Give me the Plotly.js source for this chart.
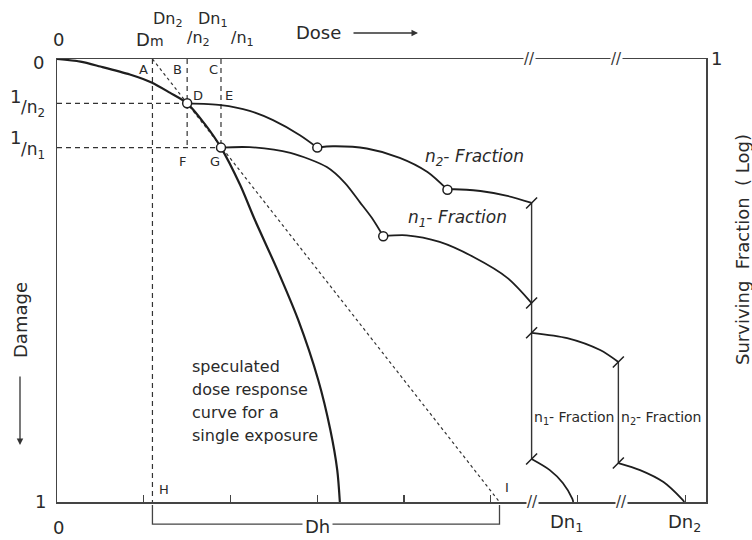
<!DOCTYPE html>
<html>
<head>
<meta charset="utf-8">
<script src="https://cdn.plot.ly/plotly-3.0.1.min.js"></script>
<style>html,body{margin:0;padding:0;background:#fff}</style>
</head>
<body>
<div id="chart" style="width:752px;height:540px"></div>
<script>
// Dose in arbitrary units along x; damage runs from 0 (top) to 1 (bottom).
const doseTicks = [1, 2, 3, 4, 5, 6.0, 7.24];
const Dm = 1.1;              // start of the extrapolated straight line (A / H)
const doseI = 5.1;           // extrapolated straight line reaches full damage (I)
const invN2 = 0.1;           // damage per fraction, 1/n2
const invN1 = 0.2;           // damage per fraction, 1/n1
const doseD = 1.5;           // Dn2/n2
const doseG = 1.89;          // Dn1/n1
const topBreaks = [5.45, 6.45];
const bottomBreaks = [5.48, 6.51];

// single exposure dose response
const singleDose   = [0, 0.27, 0.5, 0.84, 1.09, 1.3, 1.5, 1.7, 1.89, 2.11, 2.28, 2.54, 2.78, 3.01, 3.15, 3.23, 3.26];
const singleDamage = [0, 0.006, 0.017, 0.035, 0.053, 0.076, 0.1, 0.146, 0.2, 0.284, 0.363, 0.476, 0.589, 0.724, 0.837, 0.928, 1.0];

// n2-fraction, one segment per fraction
const n2Seg1Dose = [1.5, 1.89, 2.22, 2.49, 2.8, 3.0];
const n2Seg1Dmg  = [0.1, 0.104, 0.117, 0.138, 0.172, 0.2];
const n2Seg2Dose = [3.0, 3.18, 3.57, 3.95, 4.27, 4.5];
const n2Seg2Dmg  = [0.2, 0.197, 0.202, 0.223, 0.255, 0.295];
const n2Seg3Dose = [4.5, 4.56, 4.88, 5.19, 5.47];
const n2Seg3Dmg  = [0.295, 0.294, 0.298, 0.309, 0.325];

// n1-fraction
const n1Seg1Dose = [1.89, 2.22, 2.69, 3.11, 3.32, 3.49, 3.63, 3.76];
const n1Seg1Dmg  = [0.2, 0.199, 0.212, 0.244, 0.28, 0.323, 0.359, 0.4];
const n1Seg2Dose = [3.76, 4.03, 4.41, 4.8, 5.19, 5.47];
const n1Seg2Dmg  = [0.4, 0.398, 0.413, 0.447, 0.494, 0.551];

// beyond the axis breaks
const lateUpperDose = [5.47, 5.88, 6.26, 6.47];
const lateUpperDmg  = [0.618, 0.63, 0.657, 0.684];
const lateN1Dose = [5.47, 5.68, 5.83, 5.94, 5.95];
const lateN1Dmg  = [0.903, 0.928, 0.957, 0.993, 1.0];
const lateN2Dose = [6.47, 6.72, 6.99, 7.2, 7.23];
const lateN2Dmg  = [0.912, 0.928, 0.955, 0.993, 1.0];
const jumpDose   = [5.47, 6.47];
const jumpTop    = [0.325, 0.684];
const jumpBottom = [0.903, 0.912];

// slash marks where the curves meet the jump lines
const slashDose = [5.47, 5.47, 5.47, 6.47, 5.47, 6.47];
const slashDmg  = [0.325, 0.551, 0.618, 0.684, 0.903, 0.912];

// open circles at the end of each fraction
const circleDose = [1.5, 1.89, 3.0, 4.5, 3.76];
const circleDmg  = [0.1, 0.2, 0.2, 0.295, 0.4];

const INK = '#1e1e1e';
const FONT = 'DejaVu Sans';

function curve(x, y, w) {
  return {x: x, y: y, mode: 'lines', line: {color: INK, width: w, shape: 'spline', smoothing: 0.8}, hoverinfo: 'skip'};
}
function guide(x, y, dash) {
  return {x: x, y: y, mode: 'lines', line: {color: '#333', width: 1.2, dash: dash}, hoverinfo: 'skip'};
}

const traces = [
  guide([0, doseD], [invN2, invN2], '5px,4px'),
  guide([0, doseG], [invN1, invN1], '5px,4px'),
  guide([Dm, Dm], [0, 1], '5px,4px'),
  guide([doseD, doseD], [0, invN1], '5px,4px'),
  guide([doseG, doseG], [0, invN1], '5px,4px'),
  guide([Dm, doseI], [0, 1], '3px,3px'),
  curve(singleDose, singleDamage, 2.2),
  curve(n2Seg1Dose, n2Seg1Dmg, 1.8),
  curve(n2Seg2Dose, n2Seg2Dmg, 1.8),
  curve(n2Seg3Dose, n2Seg3Dmg, 1.8),
  curve(n1Seg1Dose, n1Seg1Dmg, 1.8),
  curve(n1Seg2Dose, n1Seg2Dmg, 1.8),
  curve(lateUpperDose, lateUpperDmg, 1.8),
  curve(lateN1Dose, lateN1Dmg, 1.8),
  curve(lateN2Dose, lateN2Dmg, 1.8)
];
jumpDose.forEach(function (d, i) {
  traces.push({x: [d, d], y: [jumpTop[i], jumpBottom[i]], mode: 'lines',
    line: {color: '#333', width: 1.4}, hoverinfo: 'skip'});
});
traces.push({x: slashDose, y: slashDmg, mode: 'markers', cliponaxis: false,
  marker: {symbol: 'line-ne', size: 11, line: {color: INK, width: 1.5}}, hoverinfo: 'skip'});
traces.push({x: circleDose, y: circleDmg, mode: 'markers', cliponaxis: false,
  marker: {symbol: 'circle', size: 9, color: '#fff', line: {color: INK, width: 1.5}}, hoverinfo: 'skip'});

// text placed by pixel position on the page
const L = 57, R = 706, T = 59, B = 502;
function lab(text, px, py, size, extra) {
  return Object.assign({
    text: text, xref: 'paper', yref: 'paper',
    x: (px - L) / (R - L), y: (B - py) / (B - T),
    showarrow: false, xanchor: 'center', yanchor: 'middle',
    font: {family: FONT, size: size, color: '#2a2a2a'}
  }, extra || {});
}

const ann = [
  lab('0', 58, 39, 18),
  lab('D<span style="font-size:14px">m</span>', 150, 40, 18),
  lab('Dn<sub>2</sub>', 168, 20, 16),
  lab('/n<sub>2</sub>', 198, 38, 16),
  lab('Dn<sub>1</sub>', 213, 20, 16),
  lab('/n<sub>1</sub>', 243, 38, 16),
  lab('Dose', 318, 33, 18),
  lab('1', 716, 58, 18),
  lab('0', 38, 63, 18),
  lab('1', 15, 97, 18),
  lab('/n<sub>2</sub>', 33, 108, 17),
  lab('1', 15, 137, 18),
  lab('/n<sub>1</sub>', 33, 150, 17),
  lab('1', 40, 501, 18),
  lab('0', 58, 527, 18),
  lab('Dh', 317, 526, 18, {bgcolor: '#fff', borderpad: 2}),
  lab('Dn<sub>1</sub>', 566, 523, 18),
  lab('Dn<sub>2</sub>', 684, 523, 18),
  lab('A', 143, 70, 13), lab('B', 177, 70, 13), lab('C', 213, 70, 13),
  lab('D', 198, 95, 13), lab('E', 229, 95, 13),
  lab('F', 182, 161, 13), lab('G', 215, 161, 13),
  lab('H', 164, 489, 13), lab('I', 507, 487, 13),
  lab('speculated', 190, 366, 16, {xanchor: 'left'}),
  lab('dose response', 190, 389, 16, {xanchor: 'left'}),
  lab('curve for a', 190, 412, 16, {xanchor: 'left'}),
  lab('single exposure', 190, 435, 16, {xanchor: 'left'}),
  lab('<i>n<sub>2</sub>- Fraction</i>', 475, 157, 17),
  lab('<i>n<sub>1</sub>- Fraction</i>', 457, 218, 17),
  lab('n<sub>1</sub>- Fraction', 574, 418, 14),
  lab('n<sub>2</sub>- Fraction', 661, 418, 14),
  lab('Damage', 20, 320, 18, {textangle: -90}),
  lab('Surviving  Fraction  ( Log)', 742, 250, 18, {textangle: -90}),
  // direction arrows
  lab('', 418, 33, 10, {showarrow: true, ax: -66, ay: 0, arrowhead: 2, arrowsize: 1, arrowwidth: 1.3, arrowcolor: '#333'}),
  lab('', 20, 445, 10, {showarrow: true, ax: 0, ay: -70, arrowhead: 2, arrowsize: 1, arrowwidth: 1.3, arrowcolor: '#333'})
];
// axis breaks
topBreaks.forEach(function (d) {
  ann.push({text: '//', xref: 'x', yref: 'paper', x: d, y: 1, showarrow: false,
    xanchor: 'center', yanchor: 'middle', bgcolor: '#fff', borderpad: 0,
    font: {family: FONT, size: 15, color: '#333'}});
});
bottomBreaks.forEach(function (d) {
  ann.push({text: '//', xref: 'x', yref: 'paper', x: d, y: 0, showarrow: false,
    xanchor: 'center', yanchor: 'middle', bgcolor: '#fff', borderpad: 0,
    font: {family: FONT, size: 15, color: '#333'}});
});

// Dh bracket under the dose axis, from H to I
const shapes = [{
  type: 'path', xref: 'x', yref: 'paper',
  path: 'M ' + Dm + ',-0.007 L ' + Dm + ',-0.05 L ' + doseI + ',-0.05 L ' + doseI + ',-0.007',
  line: {color: '#444', width: 1.3}
}];

const layout = {
  width: 752, height: 540,
  margin: {l: L, r: 752 - R, t: T, b: 540 - B, pad: 0},
  paper_bgcolor: '#fff', plot_bgcolor: '#fff',
  showlegend: false,
  font: {family: FONT, color: '#2a2a2a'},
  xaxis: {range: [0, 7.48], showgrid: false, zeroline: false,
    showline: true, mirror: true, linecolor: '#444', linewidth: 1.5,
    ticks: 'inside', tickvals: doseTicks, ticklen: 7, tickwidth: 1.3, tickcolor: '#444',
    showticklabels: false, fixedrange: true},
  yaxis: {range: [1, 0], showgrid: false, zeroline: false,
    showline: true, mirror: true, linecolor: '#444', linewidth: 1.5,
    ticks: '', showticklabels: false, fixedrange: true},
  annotations: ann,
  shapes: shapes
};

Plotly.newPlot('chart', traces, layout, {displayModeBar: false, staticPlot: true});
</script>
</body>
</html>
